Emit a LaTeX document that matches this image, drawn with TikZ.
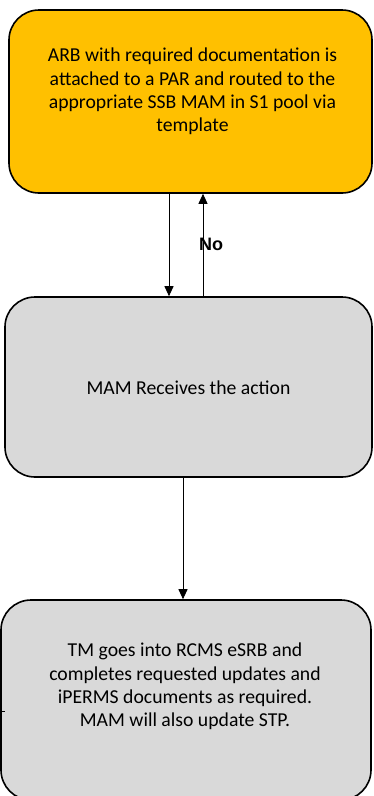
\documentclass[tikz,border=0pt]{standalone}
\usepackage{fontspec}
\setmainfont{Carlito}
\newfontfamily\labelfont{Liberation Sans}
\usetikzlibrary{arrows.meta}
\definecolor{stepgold}{HTML}{FFC000}
\definecolor{stepgrey}{HTML}{D9D9D9}
\tikzset{
  steptext/.style={align=center, font=\fontsize{19.7}{23.4}\selectfont},
  stepbox/.style={draw=black, line width=1.6pt, rounded corners=30pt,
    inner sep=0pt},
  arr/.style={draw=black, line width=0.9pt,
    -{Triangle[width=9pt,length=10pt]}},
}
\begin{document}
\begin{tikzpicture}[x=1pt,y=-1pt]
\useasboundingbox (0,0) rectangle (373,796);
\fill[white] (0,0) rectangle (373,796);

% process steps
\node[stepbox, fill=stepgold, minimum width=363pt, minimum height=183pt]
  (arb) at (190.5,101.5) {};
\node[steptext] (arbtext) at (192.5,91.5)
  {ARB with required documentation is\\attached to a PAR and routed to the\\appropriate SSB MAM in S1 pool via\\template};

\node[stepbox, fill=stepgrey, minimum width=367pt, minimum height=180pt]
  (mam) at (188.5,387) {};
\node[steptext] (mamtext) at (188.5,388) {MAM Receives the action};

\node[stepbox, fill=stepgrey, minimum width=370pt, minimum height=200pt]
  (tm) at (186,700) {};
\node[steptext] (tmtext) at (185,686.5)
  {TM goes into RCMS eSRB and\\completes requested updates and\\iPERMS documents as required.\\MAM will also update STP.};

% connector columns
\coordinate (xdown) at (169,0);
\coordinate (xup) at (203,0);
\coordinate (xlow) at (183,0);

\draw[arr] (xdown |- arb.south) -- (xdown |- mam.north);
\draw[arr] (xup |- mam.north) -- (xup |- arb.south);
\node[font=\labelfont\bfseries\fontsize{18}{20}\selectfont, anchor=west,
  inner sep=0pt] (no) at (199,244) {No};
\draw[arr] (xlow |- mam.south) -- (xlow |- tm.north);

% short stub on the left edge
\coordinate (stub) at (5,711);
\draw[line width=0.6pt] (0,711) -- (stub);
\end{tikzpicture}
\end{document}
